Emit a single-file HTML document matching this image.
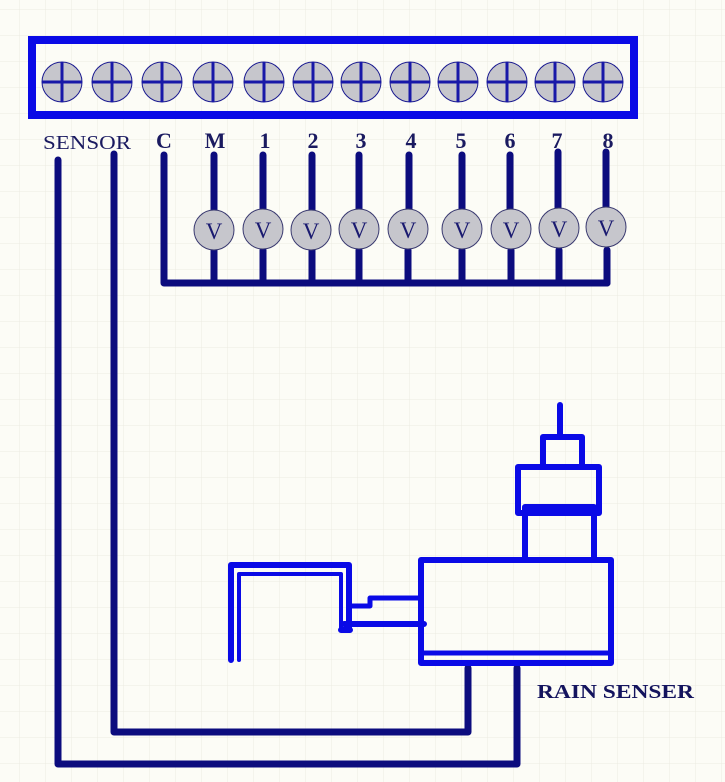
<!DOCTYPE html>
<html><head><meta charset="utf-8"><style>
html,body{margin:0;padding:0;background:#fcfcf6;}
svg{display:block;}
</style></head><body>
<svg width="725" height="782" viewBox="0 0 725 782" xmlns="http://www.w3.org/2000/svg">
<defs>
<pattern id="g" width="26" height="26" patternUnits="userSpaceOnUse" x="20" y="10">
<path d="M26 0V26M0 26H26" stroke="#ecebe2" stroke-width="1" fill="none"/>
</pattern>
</defs>
<rect width="725" height="782" fill="#fcfcf6"/>
<rect width="725" height="782" fill="url(#g)"/>

<rect x="32" y="40" width="602" height="75" fill="none" stroke="#0a0ae6" stroke-width="8"/>
<g fill="#c6c6cc" stroke="#1a1a90" stroke-width="1">
<circle cx="62" cy="82" r="20"/><circle cx="112" cy="82" r="20"/><circle cx="162" cy="82" r="20"/><circle cx="213" cy="82" r="20"/><circle cx="264" cy="82" r="20"/><circle cx="313" cy="82" r="20"/><circle cx="361" cy="82" r="20"/><circle cx="410" cy="82" r="20"/><circle cx="458" cy="82" r="20"/><circle cx="507" cy="82" r="20"/><circle cx="555" cy="82" r="20"/><circle cx="603" cy="82" r="20"/>
</g>
<g stroke="#1818a8" stroke-width="3">
<path d="M42 82h40M62 62v40M92 82h40M112 62v40M142 82h40M162 62v40M193 82h40M213 62v40M244 82h40M264 62v40M293 82h40M313 62v40M341 82h40M361 62v40M390 82h40M410 62v40M438 82h40M458 62v40M487 82h40M507 62v40M535 82h40M555 62v40M583 82h40M603 62v40"/>
</g>

<text x="43" y="149" font-family="Liberation Serif, serif" font-size="20.5" fill="#1a1a60" textLength="88" lengthAdjust="spacingAndGlyphs">SENSOR</text>
<g font-family="Liberation Serif, serif" font-size="22" font-weight="bold" fill="#1a1a60" text-anchor="middle">
<text x="164" y="148">C</text><text x="215" y="148">M</text><text x="265" y="148">1</text><text x="313" y="148">2</text><text x="361" y="148">3</text><text x="411" y="148">4</text><text x="461" y="148">5</text><text x="510" y="148">6</text><text x="557" y="148">7</text><text x="608" y="148">8</text>
</g>

<g stroke="#0c0c7e" stroke-width="7" fill="none" stroke-linecap="round" stroke-linejoin="round">
<path d="M58 160V764H517V668"/>
<path d="M114 154V732H468V668"/>
<path d="M164 155V283H607"/>
<path d="M214 155V210M263 155V210M312 155V210M359 155V210M409 155V210M462 155V210M510 155V210M558 152V210M606 152V210"/>
<path d="M214 250V283M263 250V283M312 250V283M359 250V283M408 250V283M462 250V283M511 250V283M559 250V283M607 250V283"/>
</g>
<g fill="#c6c6cc" stroke="#3a3a70" stroke-width="1">
<circle cx="214" cy="230" r="20"/><circle cx="263" cy="229" r="20"/><circle cx="311" cy="230" r="20"/><circle cx="359" cy="229" r="20"/><circle cx="408" cy="229" r="20"/><circle cx="462" cy="229" r="20"/><circle cx="511" cy="229" r="20"/><circle cx="559" cy="228" r="20"/><circle cx="606" cy="227" r="20"/>
</g>
<g font-family="Liberation Serif, serif" font-size="23" fill="#1a1a70" text-anchor="middle">
<text x="214" y="239">V</text><text x="263" y="238">V</text><text x="311" y="239">V</text><text x="359" y="238">V</text><text x="408" y="238">V</text><text x="462" y="238">V</text><text x="511" y="238">V</text><text x="559" y="237">V</text><text x="606" y="236">V</text>
</g>

<g stroke="#0a0ae6" fill="none" stroke-width="6" stroke-linejoin="round" stroke-linecap="round">
<rect x="421" y="560" width="190" height="103"/>
<path d="M424 653H608" stroke-width="5"/>
<path d="M525 560V507H594V560"/>
<rect x="518" y="467" width="81" height="46"/>
<rect x="543" y="437" width="39" height="30"/>
<path d="M560 437V405"/>
<path d="M231 660V565H349V630"/>
<path d="M239 660V574H341V630" stroke-width="4"/>
<path d="M341 630H350M344 624H424"/>
<path d="M350 606H370V598H421" stroke-width="5"/>
</g>
<text x="537" y="698" font-family="Liberation Serif, serif" font-size="20" font-weight="bold" fill="#14145e" textLength="157" lengthAdjust="spacingAndGlyphs">RAIN SENSER</text>
</svg>
</body></html>
